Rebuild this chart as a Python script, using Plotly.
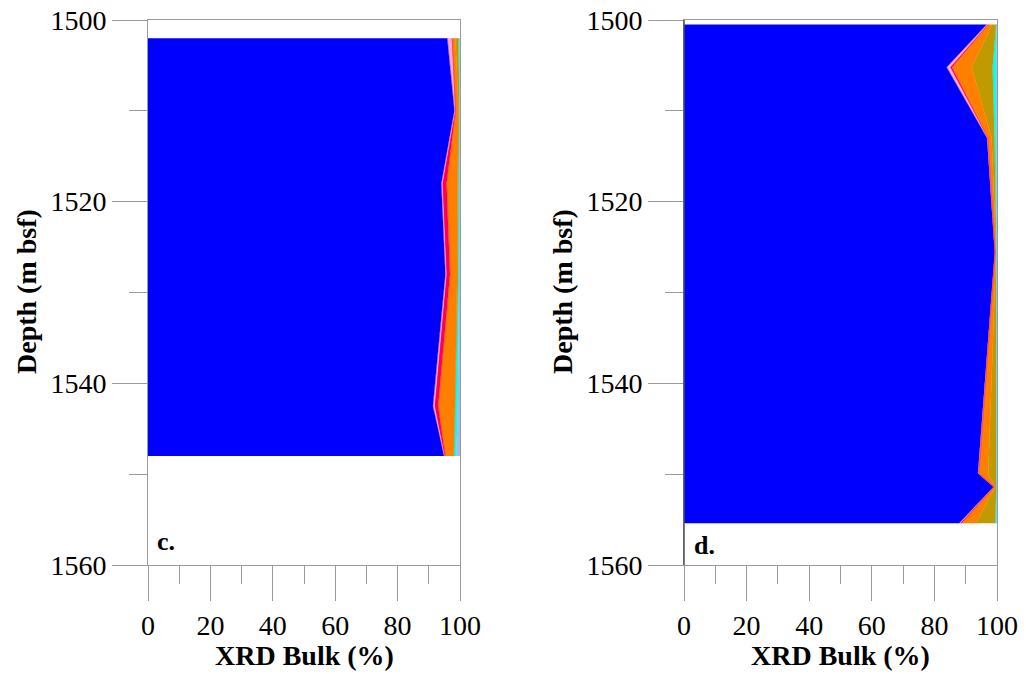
import plotly.graph_objects as go

# ---------------- data (percent of bulk XRD, stacked left->right) -------------
depth_c = [1502, 1510, 1518, 1528, 1542.5, 1548]
blue_c = [95.9, 98.2, 94.0, 95.3, 91.3, 94.9]
pink_c = [1.5, 0.2, 0.3, 0.3, 0.5, 0.1]
red_c = [0.1, 0.2, 1.4, 1.2, 1.2, 0.3]
orange_c = [1.0, 1.0, 3.5, 2.3, 5.4, 2.7]
olive_c = [1.0, 0.2, 0.3, 0.3, 0.1, 0.1]
cyan_c = [0.3, 0.1, 0.2, 0.3, 0.8, 0.7]
lightblue_c = [0.2, 0.1, 0.3, 0.3, 0.7, 1.2]

depth_d = [1500.5, 1505.2, 1513, 1525.6, 1549.9, 1551.4, 1555.4]
blue_d = [96.7, 83.9, 96.8, 99.3, 93.9, 98.9, 87.9]
pink_d = [0.3, 1.1, 0.2, 0.05, 0.2, 0.1, 0.3]
red_d = [0.2, 0.6, 0.1, 0.05, 0.1, 0.1, 0.5]
orange_d = [1.3, 6.3, 1.2, 0.3, 3.0, 0.3, 4.6]
olive_d = [1.2, 6.7, 0.9, 0.1, 2.5, 0.4, 6.1]
cyan_d = [0.2, 1.1, 0.5, 0.1, 0.2, 0.1, 0.5]
lightblue_d = [0.1, 0.3, 0.3, 0.1, 0.1, 0.1, 0.1]

x_ticks = [0, 20, 40, 60, 80, 100]
y_ticks = [1500, 1520, 1540, 1560]

colors = ["#0000FF", "#FFA8C8", "#FF0050", "#FF8000", "#BF9A00", "#00FFFF", "#A8B8EC"]
FONT = "Liberation Serif"

fig = go.Figure()

def add_panel(depth, series, xa, ya, grp):
    for vals, col in zip(series, colors):
        fig.add_trace(go.Scatter(
            x=vals, y=depth, mode="lines",
            stackgroup=grp, orientation="h",
            line=dict(width=0.5, color=col), fillcolor=col,
            xaxis=xa, yaxis=ya, showlegend=False, hoverinfo="skip"))

add_panel(depth_c, [blue_c, pink_c, red_c, orange_c, olive_c, cyan_c, lightblue_c], "x", "y", "c")
add_panel(depth_d, [blue_d, pink_d, red_d, orange_d, olive_d, cyan_d, lightblue_d], "x2", "y2", "d")

# page has an 8px body margin: figure positions are shifted by 8px
OFF = 8
W, H = 1026 - OFF, 674 - OFF

def px(x):
    return (x - OFF) / W

def py(y):
    return 1 - (y - OFF) / H

yd = [py(565), py(20)]

axis_common = dict(showline=True, linecolor="#9a9a9a", linewidth=1, mirror=True,
                   showgrid=False, zeroline=False, ticks="outside", ticklen=35,
                   tickcolor="#9a9a9a", tickwidth=1, automargin=False,
                   ticklabeloverflow="allow",
                   tickfont=dict(family=FONT, size=28, color="black"))

xaxis = dict(axis_common, range=[0, 100], tickvals=x_ticks,
             minor=dict(dtick=10, tick0=0, ticklen=18, ticks="outside",
                        tickcolor="#9a9a9a", tickwidth=1))
yaxis = dict(axis_common, range=[1560, 1500], tickvals=y_ticks,
             minor=dict(dtick=10, tick0=1500, ticklen=18, ticks="outside",
                        tickcolor="#9a9a9a", tickwidth=1))

fig.update_layout(
    width=W, height=H, margin=dict(l=0, r=0, t=0, b=0, autoexpand=False),
    paper_bgcolor="white", plot_bgcolor="white",
    xaxis=dict(xaxis, domain=[px(148), px(460)], anchor="y"),
    yaxis=dict(yaxis, domain=yd, anchor="x"),
    xaxis2=dict(xaxis, domain=[px(684), px(997)], anchor="y2"),
    yaxis2=dict(yaxis, domain=yd, anchor="x2"),
)

# darker left frame line on panel d, as in the reference
fig.add_shape(type="line", xref="x2 domain", yref="y2 domain", x0=0, x1=0, y0=0, y1=1,
              line=dict(color="#505050", width=1.5), layer="above")

title_font = dict(family=FONT, size=28, color="black")
ann = []
for cx in [(148 + 460) / 2, (684 + 997) / 2]:
    ann.append(dict(text="<b>XRD Bulk (%)</b>", x=px(cx), y=py(655), xref="paper", yref="paper",
                    showarrow=False, font=title_font, xanchor="center", yanchor="middle"))
for lx in [27, 563]:
    ann.append(dict(text="<b>Depth (m bsf)</b>", x=px(lx), y=py(292), xref="paper", yref="paper",
                    showarrow=False, font=title_font, textangle=-90, xanchor="center", yanchor="middle"))
ann.append(dict(text="<b>c.</b>", x=px(155), y=py(541), xref="paper", yref="paper",
                showarrow=False, font=dict(family=FONT, size=26, color="black"),
                xanchor="left", yanchor="middle"))
ann.append(dict(text="<b>d.</b>", x=px(692), y=py(545), xref="paper", yref="paper",
                showarrow=False, font=dict(family=FONT, size=26, color="black"),
                xanchor="left", yanchor="middle"))
fig.update_layout(annotations=ann)

fig.write_html("out.html")
